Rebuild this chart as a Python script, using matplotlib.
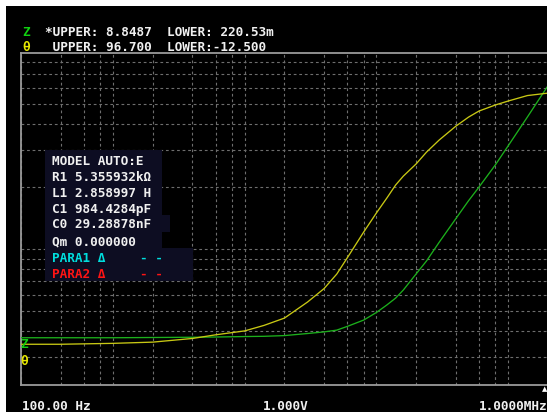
import matplotlib
matplotlib.use("Agg")
import matplotlib.pyplot as plt
from matplotlib.patches import Rectangle
from matplotlib.ticker import LogLocator, FixedLocator

# sweep 100 Hz .. 1 MHz, impedance (log) and phase (linear)
freq = [100, 200, 500, 1e3, 2e3, 3e3, 5e3, 7e3, 1e4, 1.5e4, 2e4, 2.5e4, 3e4,
        4e4, 5e4, 6e4, 7e4, 8e4, 1e5, 1.2e5, 1.5e5, 2e5, 2.5e5, 3e5, 4e5,
        5e5, 7e5, 1e6]
z_vals = [0.373, 0.373, 0.373, 0.374, 0.375, 0.376, 0.378, 0.379, 0.382,
          0.391, 0.398, 0.406, 0.423, 0.454, 0.494, 0.537, 0.580, 0.634,
          0.758, 0.876, 1.08, 1.40, 1.71, 1.99, 2.55, 3.15, 4.34, 6.13]
theta_vals = [0.9, 0.9, 1.2, 1.6, 2.8, 4.0, 5.3, 7.1, 9.5, 14.8, 19.2, 24.0,
              29.3, 37.8, 44.1, 49.0, 53.3, 56.2, 60.2, 64.1, 68.1, 72.6,
              75.6, 77.6, 79.6, 80.9, 82.7, 83.5]

z_upper, z_lower = 8.8487, 0.22053
th_upper, th_lower = 96.7, -12.5

header_z = "*UPPER: 8.8487  LOWER: 220.53m"
header_th = " UPPER: 96.700  LOWER:-12.500"
model_lines = ["MODEL AUTO:E", "R1 5.355932kΩ", "L1 2.858997 H",
               "C1 984.4284pF", "C0 29.28878nF", "Qm 0.000000"]
start_label = "100.00 Hz"
mid_label = "1.000V"
stop_label = "1.0000MHz"

W, H = 547, 412
GREEN = "#1cb01c"
YELLOW = "#c8c814"
FONT = {"family": "DejaVu Sans Mono", "weight": "bold", "size": 9.2}

fig = plt.figure(figsize=(W / 100, H / 100), dpi=100)
fig.patch.set_facecolor("white")
fig.patches.append(Rectangle((6 / W, 0), 1, 1 - 6 / H, transform=fig.transFigure,
                             facecolor="black", edgecolor="none", zorder=-5))

# main plot area
ax = fig.add_axes([21 / W, 1 - 385 / H, 527 / W, 332 / H])
ax.set_facecolor("black")
ax.set_xscale("log")
ax.set_yscale("log")
ax.set_xlim(100, 1e6 * 1.004)
ax.set_ylim(z_lower, z_upper)

xgrid = [m * 10 ** k for k in range(2, 6) for m in (1, 2, 3, 4, 5)]
ax.xaxis.set_major_locator(FixedLocator(xgrid))
ax.xaxis.set_minor_locator(FixedLocator([]))
ax.yaxis.set_major_locator(LogLocator(base=10, subs=range(1, 10)))
ax.yaxis.set_minor_locator(FixedLocator([]))
ax.tick_params(which="both", length=0, labelbottom=False, labelleft=False)
ax.grid(True, color="#6e6e6e", linestyle=(0, (2.5, 2.5)), linewidth=0.8)
for side in ("left", "top", "bottom"):
    ax.spines[side].set_color("#9a9a9a")
    ax.spines[side].set_linewidth(1.3)
ax.spines["right"].set_visible(False)

ax.plot(freq, z_vals, color=GREEN, linewidth=0.95, zorder=3)

ax2 = ax.twinx()
ax2.set_ylim(th_lower, th_upper)
ax2.set_yticks([])
for s in ax2.spines.values():
    s.set_visible(False)
ax2.plot(freq, theta_vals, color=YELLOW, linewidth=0.95, zorder=3)

# overlay in pixel coordinates for screen texts
ov = fig.add_axes([0, 0, 1, 1])
ov.set_xlim(0, W)
ov.set_ylim(H, 0)
ov.axis("off")
ov.patch.set_alpha(0)

ov.text(22, 35.7, "Z", color="#10d010", va="baseline", **FONT)
ov.text(45, 35.7, header_z, color="#f0f0f0", va="baseline", **FONT)
ov.text(22, 50.7, "θ", color="#e8e800", va="baseline", **FONT)
ov.text(45, 50.7, header_th, color="#f0f0f0", va="baseline", **FONT)

box = "#0d0d22"
ov.add_patch(Rectangle((45, 150), 117, 65, facecolor=box, edgecolor="none"))
ov.add_patch(Rectangle((45, 215), 125, 17, facecolor=box, edgecolor="none"))
ov.add_patch(Rectangle((45, 232), 117, 16, facecolor=box, edgecolor="none"))
ov.add_patch(Rectangle((45, 248), 148, 33, facecolor=box, edgecolor="none"))

row_y = [165, 180.5, 196.7, 213, 228.3, 245]
for txt, y in zip(model_lines, row_y):
    ov.text(52, y, txt, color="#f0f0f0", va="baseline", **FONT)
ov.text(52, 261.7, "PARA1 Δ", color="#00dede", va="baseline", **FONT)
ov.text(140, 261.7, "- -", color="#00dede", va="baseline", **FONT)
ov.text(52, 278, "PARA2 Δ", color="#ff1414", va="baseline", **FONT)
ov.text(140, 278, "- -", color="#ff1414", va="baseline", **FONT)

ov.text(20, 347.7, "Z", color="#10d010", va="baseline", **FONT)
ov.text(20, 365, "θ", color="#e8e800", va="baseline", **FONT)
ov.text(545, 391, "▲", color="white", ha="center", va="baseline",
        family="DejaVu Sans", size=5)

ov.text(22, 410, start_label, color="#f0f0f0", va="baseline", **FONT)
ov.text(263, 410, mid_label, color="#f0f0f0", va="baseline", **FONT)
ov.text(479, 410, stop_label, color="#f0f0f0", va="baseline", **FONT)

plt.savefig("out.png", dpi=100)
